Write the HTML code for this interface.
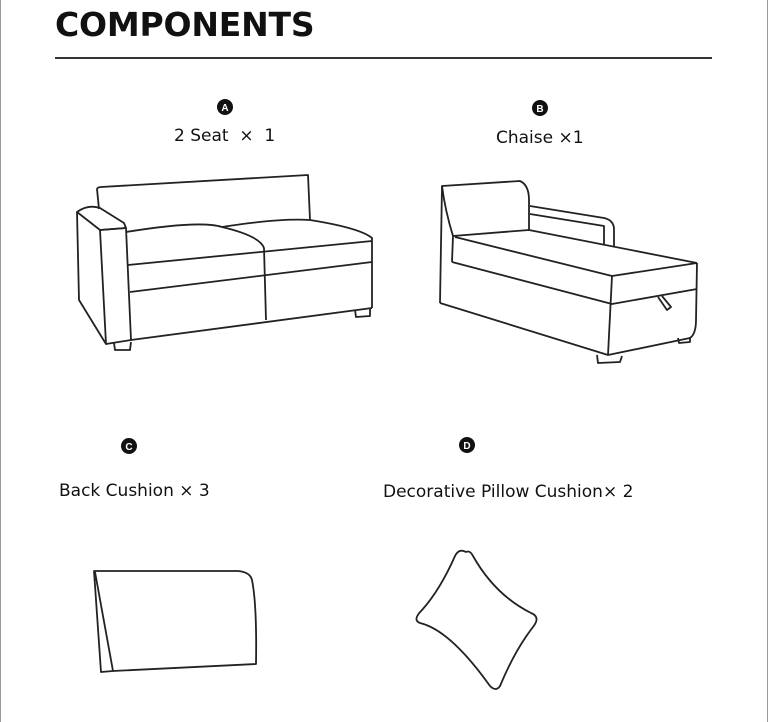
<!DOCTYPE html>
<html><head><style>
body{margin:0;background:#fff;width:768px;height:722px;overflow:hidden;position:relative;font-family:"DejaVu Sans","Liberation Sans",sans-serif;color:#111}
.t{position:absolute;font-size:17px;white-space:nowrap}
</style></head><body>
<div style="position:absolute;left:0;top:0;width:1px;height:722px;background:#999"></div>
<div style="position:absolute;right:0;top:0;width:1px;height:722px;background:#999"></div>
<div style="position:absolute;left:55px;top:5px;font-size:33px;font-weight:900;letter-spacing:-0.2px;font-family:'DejaVu Sans','Liberation Sans',sans-serif">COMPONENTS</div>
<div style="position:absolute;left:55px;top:57px;width:657px;height:1.5px;background:#333"></div>
<div class="t" style="left:174px;top:126px">2 Seat &nbsp;× &nbsp;1</div>
<div class="t" style="left:496px;top:128px">Chaise ×1</div>
<div class="t" style="left:59px;top:481px">Back Cushion × 3</div>
<div class="t" style="left:383px;top:482px">Decorative Pillow Cushion× 2</div>
<svg width="768" height="722" style="position:absolute;left:0;top:0" fill="none" stroke="#222" stroke-width="1.8" stroke-linejoin="round">
<g fill="#111" stroke="none">
<circle cx="225" cy="107" r="8"/><circle cx="540" cy="108" r="8"/><circle cx="129" cy="446" r="8"/><circle cx="467" cy="445" r="8"/>
</g>
<g fill="#fff" stroke="none" font-size="10" font-weight="bold" text-anchor="middle" font-family="Liberation Sans">
<text x="225" y="111">A</text><text x="540" y="112">B</text><text x="129" y="450">C</text><text x="467" y="449">D</text>
</g>
<path d="M99 209 L97 189 Q98 187 101 187 L308 175 L310 220"/>
<path d="M77 212 Q88 204 100 208 L124 223 L126 228 L100 230 Z"/>
<path d="M77 212 L79 300 L106 344 L100 230"/>
<path d="M100 230 L126 228 L131 340 L106 344"/>
<path d="M126 232 Q200 220 222 227 Q260 236 264 248 L266 320"/>
<path d="M222 227 Q280 218 310 220 Q360 228 372 238 L372 308"/>
<path d="M128 265 L372 241"/><path d="M130 292 L372 262"/><path d="M131 340 L372 308"/>
<path d="M114 343 L115 350 L130 350 L131 342"/><path d="M355 310 L356 317 L370 316 L370 308"/>
<path d="M453 236 Q445 210 442 186 L520 181 Q529 185 529 200 L529 231"/>
<path d="M442 186 L440 303"/>
<path d="M530 206 L604 218 Q613 220 614 228 L614 246"/>
<path d="M530 214 L604 226 L604 244"/>
<path d="M453 236 L529 230 L697 263"/>
<path d="M455 237 L612 276 L697 263"/>
<path d="M452 262 L612 304 L697 289"/>
<path d="M453 236 L452 262"/>
<path d="M440 303 L608 355 L690 338 Q696 334 696 320 L697 263"/>
<path d="M612 276 L608 355"/>
<path d="M658 297 L667 310 L671 307 L662 296"/>
<path d="M597 355 L598 363 L620 362 L622 356"/><path d="M678 338 L679 343 L690 342 L690 337"/>
<path d="M94 571 L238 571 Q250 572 252 580 Q257 605 256 664 L113 671 L101 672 Z"/>
<path d="M95 572 L113 671"/>
<path d="M466 552 Q459 548 455 556 Q440 590 422 610 Q412 620 420 623 Q450 630 490 686 Q496 692 500 686 Q515 650 533 627 Q541 617 531 613 Q495 595 473 556 Q470 550 466 552 Z"/>
</svg>
</body></html>
